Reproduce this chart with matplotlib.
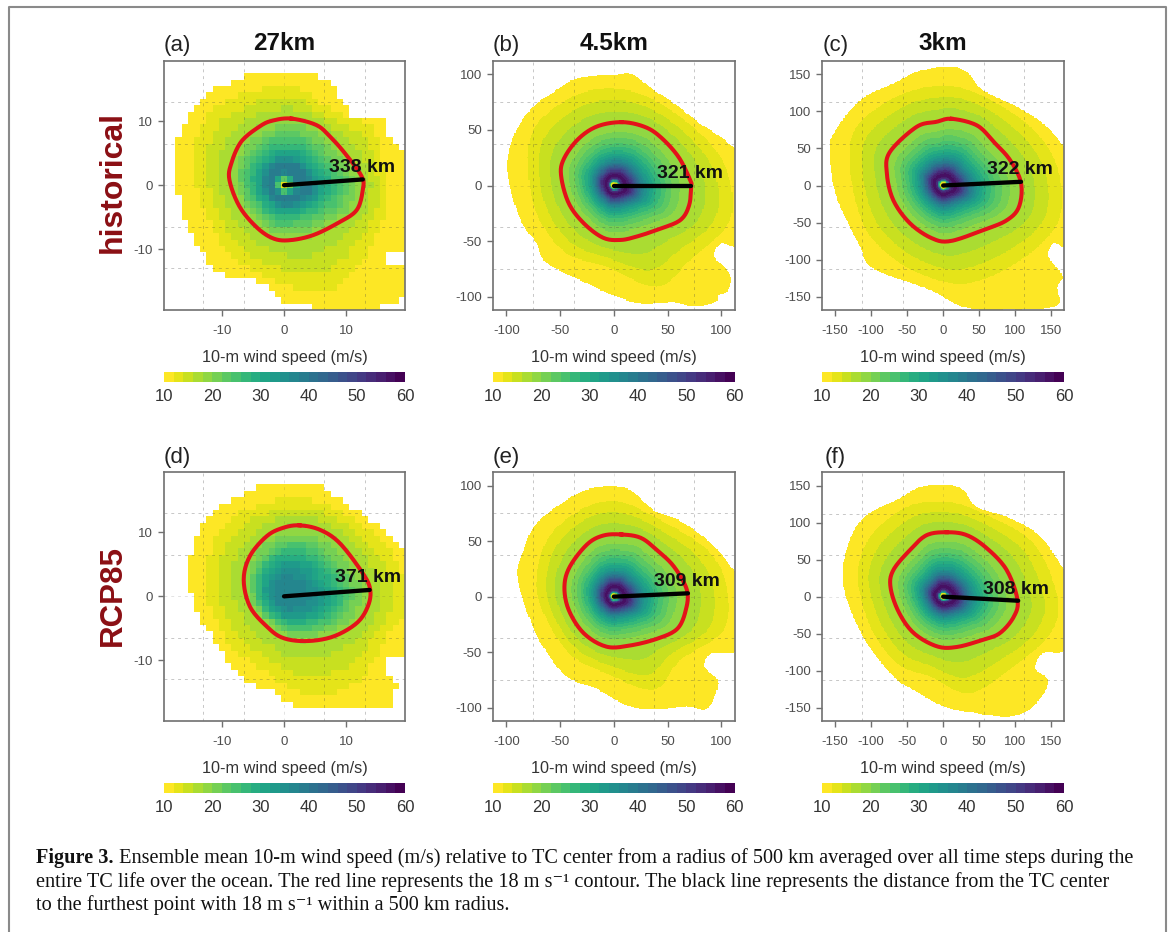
import numpy as np
import matplotlib
matplotlib.use("Agg")
import matplotlib.pyplot as plt
from matplotlib.colors import BoundaryNorm, ListedColormap
from matplotlib.path import Path
from matplotlib.cm import ScalarMappable
from matplotlib.lines import Line2D

W, H = 1171, 932
plt.rcParams['font.family'] = ['Liberation Sans', 'DejaVu Sans']

LETTERS = ["(a)", "(b)", "(c)", "(d)", "(e)", "(f)"]
TITLES = ["27km", "4.5km", "3km", "", "", ""]
ROW_LABELS = ["historical", "RCP85"]
CBAR_LABEL = "10-m wind speed (m/s)"
CBAR_TICKS = [10, 20, 30, 40, 50, 60]
LEVELS = list(range(10, 62, 2))
DIST_KM = [338, 321, 322, 371, 309, 308]
FAR_POINT = [(12.7, 0.9), (72, 0), (108, 5), (13.8, 1), (69, 3), (104, -5.5)]
LABEL_POS = [(12.5, 2.8), (71, 11), (107, 21), (13.5, 2.9), (68, 13.5), (101, 10)]
XLIMS = [(-19.35, 19.5), (-112.5, 112.5), (-167.5, 167.5)]
YLIMS = [(-19.5, 19.4), (-112, 112), (-168, 168)]
XTICKS = [[-10, 0, 10], [-100, -50, 0, 50, 100], [-150, -100, -50, 0, 50, 100, 150]]
GRIDS = [[-13, -6.5, 0, 6.5, 13], [-75, -37.5, 0, 37.5, 75], [-112, -56, 0, 56, 112]]

OUTER_A = [(-4.5,17.5),(4.4,17.5),(7.6,15.4),(9.5,13.3),(11.1,10.5),(16.2,10.5),(16.5,7.6),(19.5,5.5),(20.5,5),(20.5,-8.5),(16.5,-10.6),(16.5,-12.4),(20.5,-13.5),(20.5,-16.6),(17.6,-18.4),(11.4,-19.6),(5.5,-19.6),(4.4,-18.5),(0.4,-18.4),(-3.4,-15.3),(-10.4,-13.5),(-14.4,-8.5),(-16.3,-4.6),(-17.4,1.6),(-17.4,6.3),(-15.5,10.5),(-13.3,13.3),(-10.4,15.4),(-7.4,16.5)]
RED_A = [(1.2,10.4),(5.2,9.4),(7.4,7.6),(9.8,5),(12.5,1.4),(12.7,-0.7),(11.7,-3.9),(8.7,-5.9),(4.7,-7.8),(0.9,-8.6),(-1.8,-8.3),(-4.5,-6.5),(-7.2,-3.3),(-8.8,0.8),(-8.5,3.4),(-6.9,6.8),(-3.9,9.2),(-1.8,10.1)]
MID_A = [(0,15.4),(7.4,11.8),(14.4,8.6),(16.5,0),(16,-5.4),(10.6,-14.3),(3.5,-16.4),(-8.8,-10.6),(-14.4,2),(-11.4,11.8)]

OUTER_B = [(15,101),(25,95),(37,86),(56,74),(80,56),(99,44),(113,33),(118,30),(118,-49),(100,-52),(94,-64),(108,-79),(107,-94),(97,-99),(94,-105),(74,-109),(56,-105),(25,-106),(0,-99),(-25,-88),(-62,-70),(-72,-52),(-87,-31),(-98,5),(-98,29),(-89,53),(-75,71),(-56,84),(-38,95),(-16,99),(3,100)]
RED_B = [(7,57),(28,53),(43,44),(60,26),(71,5),(72,-1),(70,-18),(62,-31),(43,-39),(21,-46),(6,-49),(-10,-47),(-28,-34),(-42,-16),(-49,8),(-47,23),(-34,41),(-16,53)]
MID_B = [(0,87),(37,77),(80,47),(105,14),(108,-31),(71,-67),(40,-91),(-7,-73),(-44,-61),(-69,-31),(-79,5),(-75,50),(-38,80)]

OUTER_C = [(10,160),(33,153),(56,128),(107,104),(144,79),(168,52),(175,48),(175,-74),(153,-78),(146,-96),(165,-121),(158,-137),(156,-163),(84,-167),(28,-164),(-18,-141),(-97,-112),(-115,-83),(-148,-15),(-157,43),(-152,70),(-115,115),(-64,140),(-32,155)]
RED_C = [(12,90),(47,81),(70,59),(93,34),(108,3),(105,-29),(88,-47),(56,-60),(10,-75),(-16,-71),(-46,-51),(-69,-20),(-78,16),(-74,45),(-37,79),(-9,86)]
MID_C = [(0,135),(56,120),(121,79),(158,25),(160,-47),(107,-101),(33,-132),(-32,-119),(-83,-87),(-113,-47),(-129,25),(-120,79),(-64,120)]

OUTER_D = [(-3.4,17.4),(5.5,17.4),(8.5,15.4),(11.7,13.3),(13,12.2),(15.4,11.2),(17.6,9.4),(19.5,7.3),(20.5,7),(20.5,-8.3),(16.5,-9.6),(16.5,-12.5),(18.4,-13.5),(17.6,-15.6),(16.5,-17.3),(2.5,-17.3),(-1.2,-15.1),(-6.3,-13.3),(-10.4,-8.3),(-13.3,-3.6),(-14.4,-1.3),(-15.4,3.6),(-14.4,8.3),(-11.4,13.3),(-7.4,15.4)]
RED_D = [(2.5,11.1),(5.8,10.4),(9,8.3),(12.7,3.6),(13.9,1),(13.5,-1.6),(11.7,-4.2),(7.9,-6.3),(3.6,-7),(-0.2,-6.5),(-2.8,-4.7),(-5.5,-1.6),(-6.5,2.6),(-5.5,6.3),(-2.8,9.4),(-0.2,10.7)]
MID_D = [(0.9,15.4),(8.5,13.5),(16,8.3),(20,0),(16,-7.3),(11.7,-13.5),(3.6,-15.4),(-3.4,-11.5),(-8.8,-7.3),(-12.5,-0.5),(-12.5,5.2),(-8.8,12)]

OUTER_E = [(7.5,98.5),(21,92),(37,78),(62,68),(87,51),(102,36),(113,22),(118,20),(118,-44),(91,-51),(84,-63),(97,-77),(87,-101),(68,-99),(37,-102),(12,-98),(-16,-83),(-44,-72),(-66,-45),(-78,-21),(-90,18),(-84,42),(-72,66),(-41,89),(-19,98)]
RED_E = [(7,56),(25,53),(40,42),(56,27),(68,6),(67,-12),(59,-29),(40,-38),(15,-44),(-7,-45),(-28,-33),(-42,-12),(-46,9),(-41,27),(-25,47),(-10,55)]
MID_E = [(3,86),(43,69),(87,42),(105,9),(102,-30),(62,-57),(37,-84),(-7,-69),(-38,-54),(-59,-27),(-72,9),(-62,51),(-31,78)]

OUTER_F = [(5,151),(28,144),(47,121),(93,106),(135,81),(168,36),(175,33),(175,-65),(139,-76),(128,-97),(146,-115),(125,-148),(93,-162),(42,-157),(0,-148),(-41,-126),(-69,-108),(-111,-54),(-138,13),(-134,63),(-111,106),(-60,133),(-32,148)]
RED_F = [(5,87),(33,83),(61,65),(88,36),(103,-4),(98,-27),(79,-49),(56,-58),(19,-68),(-9,-67),(-41,-49),(-62,-20),(-73,13),(-69,36),(-46,63),(-23,83)]
MID_F = [(5,128),(56,112),(125,72),(158,0),(149,-49),(98,-94),(37,-130),(-18,-108),(-64,-90),(-101,-40),(-118,27),(-101,81),(-50,121)]

OUTERS = [OUTER_A, OUTER_B, OUTER_C, OUTER_D, OUTER_E, OUTER_F]
REDS = [RED_A, RED_B, RED_C, RED_D, RED_E, RED_F]
MIDS = [MID_A, MID_B, MID_C, MID_D, MID_E, MID_F]

# wind speed against radius as a fraction of the 18 m/s radius
FRAC_HI = [0, .05, .07, .1, .15, .21, .28, .35, .44, .55, .7, .85, 1]
WIND_HI = [11, 13, 30, 52, 58, 54, 46, 39, 33, 28, 23, 20, 18]
FRAC_A = [0, .09, .2, .3, .45, .6, .8, 1]
WIND_A = [13, 22, 38, 40, 32, 27, 22, 18]
FRAC_D = [0, .2, .4, .6, .8, 1]
WIND_D = [37, 38, 34, 28, 22, 18]
PROFILES = [(FRAC_A, WIND_A), (FRAC_HI, WIND_HI), (FRAC_HI, WIND_HI),
            (FRAC_D, WIND_D), (FRAC_HI, WIND_HI), (FRAC_HI, WIND_HI)]


def smooth_ring(points, n=12):
    p = np.array(points, float)
    out = []
    for k in range(len(p)):
        p0, p1, p2, p3 = p[k - 1], p[k], p[(k + 1) % len(p)], p[(k + 2) % len(p)]
        for t in np.linspace(0, 1, n, endpoint=False):
            out.append(.5 * (2 * p1 + (p2 - p0) * t + (2 * p0 - 5 * p1 + 4 * p2 - p3) * t ** 2
                             + (3 * p1 - p0 - 3 * p2 + p3) * t ** 3))
    return np.array(out)


def polar_radius(p, theta):
    ang = np.arctan2(p[:, 1], p[:, 0])
    rad = np.hypot(p[:, 0], p[:, 1])
    o = np.argsort(ang)
    return np.interp(theta, ang[o], rad[o], period=2 * np.pi)


def wind_field(i, xc, yc):
    X, Y = np.meshgrid(xc, yc)
    th = np.arctan2(Y, X)
    r = np.hypot(X, Y)
    outer = smooth_ring(OUTERS[i])
    r18 = polar_radius(smooth_ring(REDS[i]), th)
    rmid = polar_radius(smooth_ring(MIDS[i]), th)
    frac, wind = PROFILES[i]
    inner = np.interp(r / r18, frac, wind)
    a = 18 - 6 * (r - r18) / np.maximum(rmid - r18, 1e-3)
    z = np.where(r <= r18, inner, np.where(r <= rmid, a, 11))
    z = np.maximum(z, 10.05)
    inside = Path(outer).contains_points(np.c_[X.ravel(), Y.ravel()]).reshape(X.shape)
    return np.ma.masked_where(~inside, z)


fig = plt.figure(figsize=(W / 100, H / 100), dpi=100, facecolor='white')


def px_axes(x0, y0, x1, y1):
    return fig.add_axes([x0 / W, 1 - y1 / H, (x1 - x0) / W, (y1 - y0) / H])


COL_PX = [(164, 405), (493, 734.7), (822.3, 1064)]
ROW_PX = [(61, 310), (472.3, 721)]
CBAR_PX = [(371.7, 381.7), (783, 793)]
GREY = '#707070'
TXT = '#4d4d4d'

base = plt.get_cmap('viridis_r')
cmap = ListedColormap([base(k / (len(LEVELS) - 2)) for k in range(len(LEVELS) - 1)])
norm = BoundaryNorm(LEVELS, cmap.N)

for i in range(6):
    row, col = i // 3, i % 3
    x0, x1 = COL_PX[col]
    y0, y1 = ROW_PX[row]
    ax = px_axes(x0, y0, x1, y1)
    xl, yl = XLIMS[col], YLIMS[col]
    xe = np.arange(np.floor(xl[0]) - .5, xl[1] + 1.5, 1.0)
    ye = np.arange(np.floor(yl[0]) - .5, yl[1] + 1.5, 1.0)
    xc, yc = (xe[:-1] + xe[1:]) / 2, (ye[:-1] + ye[1:]) / 2
    z = wind_field(i, xc, yc)
    ax.pcolormesh(xe, ye, z, cmap=cmap, norm=norm, shading='flat', rasterized=True,
                  antialiased=False, linewidth=0, zorder=1)
    for g in GRIDS[col]:
        a = .15 if g == 0 else .3
        ax.axvline(g, color='#444444', lw=.7, ls=(0, (3, 4)), alpha=a, zorder=2)
        ax.axhline(g, color='#444444', lw=.7, ls=(0, (3, 4)), alpha=a, zorder=2)
    red = smooth_ring(REDS[i])
    red = np.vstack([red, red[:1]])
    ax.plot(red[:, 0], red[:, 1], color='#e4121a', lw=2.9, zorder=3, solid_joinstyle='round')
    fx, fy = FAR_POINT[i]
    ax.plot([0, fx], [0, fy], color='black', lw=3.1, zorder=4, solid_capstyle='round')
    lx, ly = LABEL_POS[i]
    ax.text(lx, ly, f"{DIST_KM[i]} km", ha='center', va='center', fontsize=14,
            fontweight='bold', color='#111111', zorder=5, clip_on=False)
    ax.set_xlim(xl)
    ax.set_ylim(yl)
    ax.set_xticks(XTICKS[col])
    ax.set_yticks(XTICKS[col])
    ax.set_xticklabels([str(t) for t in XTICKS[col]])
    ax.set_yticklabels([str(t) for t in XTICKS[col]])
    ax.tick_params(axis='both', length=4, width=1, color=GREY, labelcolor=TXT, labelsize=9.5)
    ax.tick_params(axis='x', pad=7)
    ax.tick_params(axis='y', pad=4)
    for s in ax.spines.values():
        s.set_color(GREY)
        s.set_linewidth(1.2)

    fig.text((x0 + 13) / W, 1 - (y0 - 15) / H, LETTERS[i], ha='center', va='center',
             fontsize=16, color='#222222')
    if TITLES[i]:
        fig.text((x0 + x1) / 2 / W, 1 - 44 / H, TITLES[i], ha='center', va='center',
                 fontsize=17.5, fontweight='bold', color='#111111')

    c0, c1 = CBAR_PX[row]
    cax = px_axes(x0, c0, x1, c1)
    sm = ScalarMappable(norm=norm, cmap=cmap)
    cb = fig.colorbar(sm, cax=cax, orientation='horizontal', ticks=CBAR_TICKS, spacing='proportional')
    cb.minorticks_off()
    cb.outline.set_visible(False)
    cax.set_xticklabels([str(t) for t in CBAR_TICKS])
    cax.tick_params(axis='x', length=0, pad=5, labelsize=12, labelcolor='#333333')
    fig.text((x0 + x1) / 2 / W, 1 - (c0 - 14) / H, CBAR_LABEL, ha='center', va='center',
             fontsize=11.7, color='#333333')

for label, ypx, size in zip(ROW_LABELS, [182, 595], [23, 22.5]):
    fig.text(113 / W, 1 - ypx / H, label, rotation=90, ha='center', va='center',
             fontsize=size, fontweight='bold', color='#8b0f14')

BORDER_X = [9 / W, 9 / W, 1166 / W, 1166 / W]
BORDER_Y = [0, 1 - 7 / H, 1 - 7 / H, 0]
fig.add_artist(Line2D(BORDER_X, BORDER_Y, transform=fig.transFigure, color='#8a8a8a', lw=1.5))

SERIF = ['Liberation Serif', 'DejaVu Serif']
CAP_SIZE = 14.6
bold_part = "Figure 3."
CAPTION = [" Ensemble mean 10-m wind speed (m/s) relative to TC center from a radius of 500 km averaged over all time steps during the",
           "entire TC life over the ocean. The red line represents the 18 m s\u207b\u00b9 contour. The black line represents the distance from the TC center",
           "to the furthest point with 18 m s\u207b\u00b9 within a 500 km radius."]
CAP_Y = [858.5, 882, 905]
b = fig.text(36 / W, 1 - CAP_Y[0] / H, bold_part, fontsize=CAP_SIZE, fontweight='bold',
             family=SERIF, va='center', color='#111111')
fig.canvas.draw()
bx = b.get_window_extent().x1
fig.text(bx / W, 1 - CAP_Y[0] / H, CAPTION[0], fontsize=CAP_SIZE, family=SERIF, va='center', color='#111111')
fig.text(36 / W, 1 - CAP_Y[1] / H, CAPTION[1], fontsize=CAP_SIZE, family=SERIF, va='center', color='#111111')
fig.text(36 / W, 1 - CAP_Y[2] / H, CAPTION[2], fontsize=CAP_SIZE, family=SERIF, va='center', color='#111111')

fig.savefig('out.png', dpi=100, facecolor='white')
